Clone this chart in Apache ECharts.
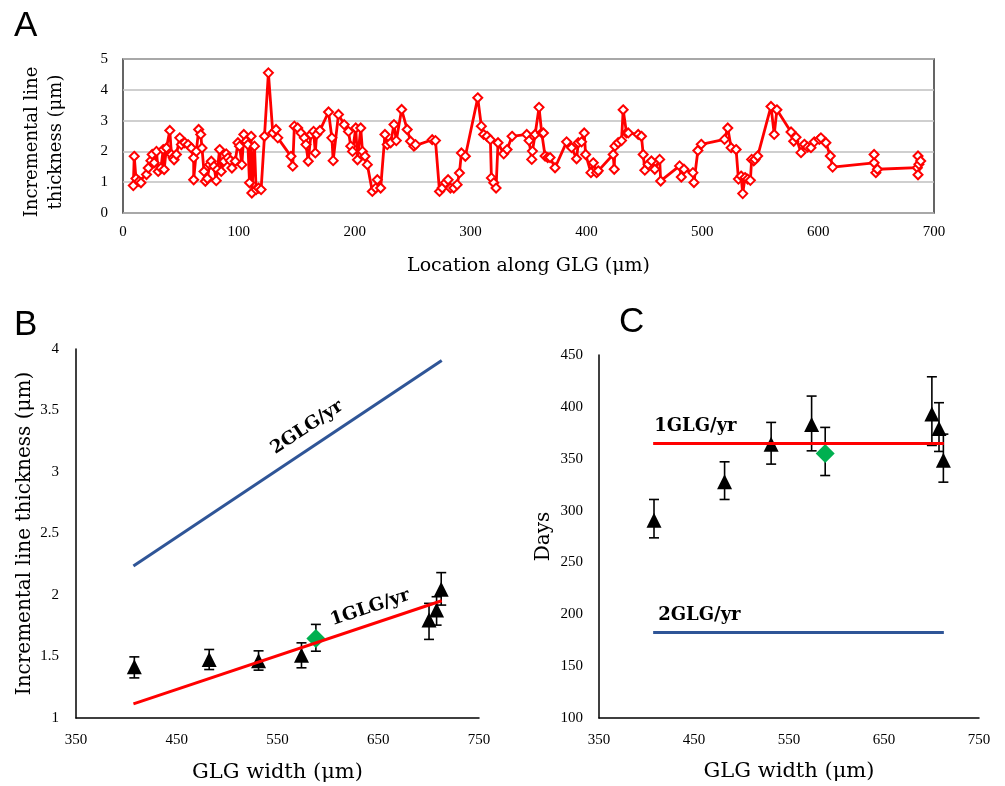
<!DOCTYPE html>
<html><head><meta charset="utf-8">
<script src="https://cdn.jsdelivr.net/npm/echarts@6/dist/echarts.min.js"></script>
<style>html,body{margin:0;padding:0;background:#fff}#c{width:1005px;height:786px}</style>
</head><body><div id="c"></div>
<script>
// ---------- Panel A: incremental line thickness along GLG ----------
const locA = [8.9,9.7,11.2,13.8,15.5,20.3,21.8,24.1,25.2,26.9,28.9,30.4,32.7,34.7,35.5,37.5,40.4,41.8,43.3,44.1,46.1,49.0,50.4,53.3,56.2,59.0,61.0,61.0,63.3,65.3,67.1,68.2,69.9,71.1,72.8,74.8,76.2,78.5,80.5,81.4,83.4,84.8,87.1,89.1,90.6,92.6,94.0,96.9,99.2,100.6,102.6,104.3,106.3,107.8,109.2,110.6,111.2,113.5,114.9,116.9,119.2,122.1,125.5,129.3,132.1,133.6,145.0,146.5,147.9,150.8,153.6,156.5,157.9,159.9,162.2,164.5,
166.0,167.1,170.0,177.4,180.3,181.4,186.0,190.9,194.6,196.6,198.1,200.9,202.4,205.2,206.7,208.9,210.9,215.2,218.1,219.5,222.4,226.1,228.1,231.0,233.9,235.9,240.5,245.3,248.2,251.1,252.5,266.9,269.7,273.2,275.5,278.3,280.6,282.6,285.5,288.4,290.4,292.1,295.5,306.2,309.3,311.3,314.2,317.1,318.0,320.0,322.0,323.7,328.6,331.5,335.8,
348.5,350.5,352.8,353.4,355.7,359.1,361.4,362.9,364.3,366.6,368.6,372.9,382.9,387.2,391.5,393.0,395.8,398.1,399.3,403.9,405.9,408.8,410.2,423.1,424.0,424.6,427.4,430.3,431.7,434.6,436.1,444.7,447.5,449.0,450.4,453.3,456.1,459.0,463.2,464.1,480.4,481.9,484.2,491.9,492.8,496.2,499.1,519.2,522.0,524.9,529.2,531.2,533.5,534.9,536.9,539.2,541.5,542.6,544.4,545.5,547.8,559.3,562.1,564.4,576.6,578.9,580.9,585.2,588.1,590.9,593.8,596.7,601.0,602.4,606.7,610.5,612.5,648.3,648.3,649.8,651.2,685.6,686.2,687.0,688.5,686.2];
const thickA = [0.89,1.84,1.12,1.03,0.98,1.25,1.46,1.70,1.90,1.63,2.00,1.35,1.46,2.06,1.41,2.11,2.68,1.90,1.79,1.73,1.90,2.44,2.22,2.28,2.22,2.11,1.79,1.08,2.00,2.71,2.55,2.11,1.35,1.03,1.12,1.57,1.68,1.52,1.05,1.41,2.06,1.35,1.68,1.92,1.79,1.70,1.46,1.68,2.28,2.17,1.57,2.55,2.33,2.22,0.98,2.49,0.65,2.17,0.76,0.81,0.76,2.49,4.55,2.60,2.71,2.44,1.84,1.52,2.82,2.76,2.60,2.44,2.22,1.68,2.55,2.65,
1.95,2.55,2.68,3.28,2.44,1.70,3.20,2.87,2.65,2.17,2.00,2.76,1.73,2.76,2.00,1.84,1.57,0.70,0.81,1.08,0.81,2.55,2.22,2.28,2.87,2.35,3.36,2.71,2.33,2.17,2.22,2.38,2.35,0.70,0.81,0.98,1.08,0.81,0.81,0.92,1.30,1.95,1.84,3.74,2.82,2.55,2.49,2.38,1.14,0.98,0.81,2.28,1.92,2.06,2.49,
2.55,2.35,1.74,2.01,2.55,3.43,2.60,2.60,1.85,1.80,1.80,1.47,2.31,2.12,1.76,2.28,2.31,2.60,1.90,1.31,1.63,1.31,1.37,1.90,1.42,2.17,2.28,2.35,3.35,2.60,2.60,2.55,2.49,1.90,1.39,1.58,1.69,1.42,1.74,1.04,1.53,1.17,1.42,1.31,0.99,2.03,2.23,2.39,2.76,2.12,2.06,1.10,1.20,0.63,1.15,1.10,1.06,1.74,1.69,1.74,1.85,3.46,2.55,3.35,2.63,2.33,2.46,1.96,2.23,2.14,2.12,2.31,2.39,2.44,2.28,1.85,1.49,1.63,1.90,1.31,1.42,1.47,1.85,1.58,1.69,1.24];

// ---------- Panels B & C: per-specimen values ----------
const glgWidth     = [407.9, 482.2, 531.2, 573.8, 700.4, 707.9, 712.5];
const lineThick    = [1.416, 1.476, 1.465, 1.511, 1.796, 1.878, 2.046];
const lineThickLo  = [1.326, 1.394, 1.389, 1.408, 1.639, 1.755, 1.918];
const lineThickHi  = [1.497, 1.557, 1.546, 1.611, 1.932, 1.986, 2.182];
const days         = [290.7, 327.7, 364.0, 383.0, 393.0, 379.2, 348.6];
const daysLo       = [273.7, 310.7, 344.8, 357.6, 362.8, 357.0, 327.4];
const daysHi       = [310.7, 347.0, 385.0, 410.4, 429.0, 404.0, 373.7];

const greenWidth   = [588.1];
const greenThick   = [1.647];
const greenThickLo = [1.543];
const greenThickHi = [1.761];
const greenDays    = [355.0];
const greenDaysLo  = [333.8];
const greenDaysHi  = [380.2];

// reference growth models
const refWidth     = [407, 713];
const oneGLGThick  = [1.115, 1.953];
const twoGLGThick  = [2.236, 3.907];
const oneGLGDays   = [365, 365];
const twoGLGDays   = [182.5, 182.5];

const xLabelsBC = [350, 450, 550, 650, 750];

const zip = (a, b) => a.map((v, i) => [v, b[i]]);
const zip3 = (a, b, c) => a.map((v, i) => [v, b[i], c[i]]);

const SERIF = 'DejaVu Serif';
const TICKF = 'Liberation Serif';

function errRender(params, api) {
  const x = api.value(0), lo = api.value(1), hi = api.value(2);
  const pHi = api.coord([x, hi]), pLo = api.coord([x, lo]);
  const w = 5;
  const st = { stroke: '#000', lineWidth: 1.6 };
  return { type: 'group', children: [
    { type: 'line', shape: { x1: pHi[0], y1: pHi[1], x2: pLo[0], y2: pLo[1] }, style: st },
    { type: 'line', shape: { x1: pHi[0] - w, y1: pHi[1], x2: pHi[0] + w, y2: pHi[1] }, style: st },
    { type: 'line', shape: { x1: pLo[0] - w, y1: pLo[1], x2: pLo[0] + w, y2: pLo[1] }, style: st }
  ]};
}

function refLine(xi, yi, xs, ys, color, text, label) {
  return {
    type: 'line', xAxisIndex: xi, yAxisIndex: yi, data: [], silent: true,
    markLine: {
      silent: true, symbol: ['none', 'none'], animation: false,
      lineStyle: { color: color, width: 3, type: 'solid' },
      emphasis: { disabled: true },
      label: Object.assign({ show: true, formatter: text, color: '#000', fontFamily: SERIF,
        fontWeight: 'bold', fontSize: 18, distance: 5 }, label),
      data: [[{ coord: [xs[0], ys[0]] }, { coord: [xs[1], ys[1]] }]]
    }
  };
}

const tickLabel = { fontFamily: TICKF, fontSize: 15, color: '#000' };
const bcXLabel = Object.assign({}, tickLabel, { margin: 15,
  formatter: v => (xLabelsBC.indexOf(Math.round(v)) >= 0 ? String(Math.round(v)) : '') });
const axisLineBlack = { show: true, lineStyle: { color: '#000', width: 1.5 } };
const panelTitle = { fontFamily: 'Liberation Sans', fontSize: 35, fontWeight: 'normal', color: '#000' };

const chart = echarts.init(document.getElementById('c'), null, { renderer: 'canvas' });
chart.setOption({
  animation: false,
  backgroundColor: '#fff',
  title: [
    { text: 'A', left: 14, top: 9, padding: 0, textStyle: panelTitle },
    { text: 'B', left: 14, top: 308, padding: 0, textStyle: panelTitle },
    { text: 'C', left: 619, top: 305, padding: 0, textStyle: panelTitle }
  ],
  grid: [
    { left: 123, top: 59, width: 811, height: 154, show: true, borderColor: '#333', borderWidth: 1.5, backgroundColor: 'transparent' },
    { left: 76, top: 349, width: 403, height: 369 },
    { left: 599, top: 355, width: 380, height: 363 }
  ],
  xAxis: [
    { gridIndex: 0, type: 'value', min: 0, max: 700, interval: 100,
      axisLine: { show: false }, axisTick: { show: false }, splitLine: { show: false },
      axisLabel: Object.assign({}, tickLabel, { margin: 12 }),
      name: 'Location along GLG (μm)', nameLocation: 'middle', nameGap: 44,
      nameTextStyle: { fontFamily: SERIF, fontSize: 19, color: '#000' } },
    { gridIndex: 1, type: 'value', min: 350, max: 750, interval: 50,
      axisLine: axisLineBlack, axisTick: { show: false }, splitLine: { show: false },
      axisLabel: bcXLabel,
      name: 'GLG width (μm)', nameLocation: 'middle', nameGap: 44,
      nameTextStyle: { fontFamily: SERIF, fontSize: 21, color: '#000' } },
    { gridIndex: 2, type: 'value', min: 350, max: 750, interval: 50,
      axisLine: axisLineBlack, axisTick: { show: false }, splitLine: { show: false },
      axisLabel: bcXLabel,
      name: 'GLG width (μm)', nameLocation: 'middle', nameGap: 43,
      nameTextStyle: { fontFamily: SERIF, fontSize: 21, color: '#000' } }
  ],
  yAxis: [
    { gridIndex: 0, type: 'value', min: 0, max: 5, interval: 1,
      axisLine: { show: false }, axisTick: { show: false },
      splitLine: { show: true, lineStyle: { color: '#BFBFBF', width: 1.5 } },
      axisLabel: Object.assign({}, tickLabel, { margin: 15 }),
      name: 'Incremental line\nthickness (μm)', nameLocation: 'middle', nameGap: 55,
      nameTextStyle: { fontFamily: SERIF, fontSize: 18, color: '#000', lineHeight: 24, padding: [0, 12, 0, 0] } },
    { gridIndex: 1, type: 'value', min: 1, max: 4, interval: 0.5,
      axisLine: axisLineBlack, axisTick: { show: false }, splitLine: { show: false },
      axisLabel: Object.assign({}, tickLabel, { margin: 17 }),
      name: 'Incremental line thickness (μm)', nameLocation: 'middle', nameGap: 41,
      nameTextStyle: { fontFamily: SERIF, fontSize: 20, color: '#000' } },
    { gridIndex: 2, type: 'value', min: 100, max: 450, interval: 50,
      axisLine: axisLineBlack, axisTick: { show: false }, splitLine: { show: false },
      axisLabel: Object.assign({}, tickLabel, { margin: 16 }),
      name: 'Days', nameLocation: 'middle', nameGap: 45,
      nameTextStyle: { fontFamily: SERIF, fontSize: 20, color: '#000' } }
  ],
  series: [
    // Panel A
    { type: 'line', xAxisIndex: 0, yAxisIndex: 0, data: zip(locA, thickA),
      symbol: 'emptyDiamond', symbolSize: 9, showAllSymbol: true,
      itemStyle: { color: '#FF0000', borderWidth: 1.5 },
      lineStyle: { color: '#FF0000', width: 2.8 }, emphasis: { disabled: true } },

    // Panel B
    refLine(1, 1, refWidth, twoGLGThick, '#2F5597', '2GLG/yr', { position: 'insideEndTop', distance: 10, padding: [0, 98, 0, 0] }),
    refLine(1, 1, refWidth, oneGLGThick, '#FF0000', '1GLG/yr', { position: 'insideEndTop', distance: 7, padding: [0, 22, 0, 0] }),
    { type: 'custom', xAxisIndex: 1, yAxisIndex: 1, renderItem: errRender,
      data: zip3(glgWidth, lineThickLo, lineThickHi), encode: { x: 0, y: [1, 2] }, z: 3 },
    { type: 'custom', xAxisIndex: 1, yAxisIndex: 1, renderItem: errRender,
      data: zip3(greenWidth, greenThickLo, greenThickHi), encode: { x: 0, y: [1, 2] }, z: 3 },
    { type: 'scatter', xAxisIndex: 1, yAxisIndex: 1, data: zip(glgWidth, lineThick),
      symbol: 'triangle', symbolSize: 15, itemStyle: { color: '#000', opacity: 1 }, z: 4 },
    { type: 'scatter', xAxisIndex: 1, yAxisIndex: 1, data: zip(greenWidth, greenThick),
      symbol: 'diamond', symbolSize: 19, itemStyle: { color: '#00B050', opacity: 1 }, z: 4 },

    // Panel C
    refLine(2, 2, refWidth, oneGLGDays, '#FF0000', '1GLG/yr', { position: 'insideStartTop', distance: [1, 8] }),
    refLine(2, 2, refWidth, twoGLGDays, '#2F5597', '2GLG/yr', { position: 'insideStartTop', distance: [5, 8] }),
    { type: 'custom', xAxisIndex: 2, yAxisIndex: 2, renderItem: errRender,
      data: zip3(glgWidth, daysLo, daysHi), encode: { x: 0, y: [1, 2] }, z: 3 },
    { type: 'custom', xAxisIndex: 2, yAxisIndex: 2, renderItem: errRender,
      data: zip3(greenWidth, greenDaysLo, greenDaysHi), encode: { x: 0, y: [1, 2] }, z: 3 },
    { type: 'scatter', xAxisIndex: 2, yAxisIndex: 2, data: zip(glgWidth, days),
      symbol: 'triangle', symbolSize: 15, itemStyle: { color: '#000', opacity: 1 }, z: 4 },
    { type: 'scatter', xAxisIndex: 2, yAxisIndex: 2, data: zip(greenWidth, greenDays),
      symbol: 'diamond', symbolSize: 19, itemStyle: { color: '#00B050', opacity: 1 }, z: 4 }
  ]
});
</script>
</body></html>
